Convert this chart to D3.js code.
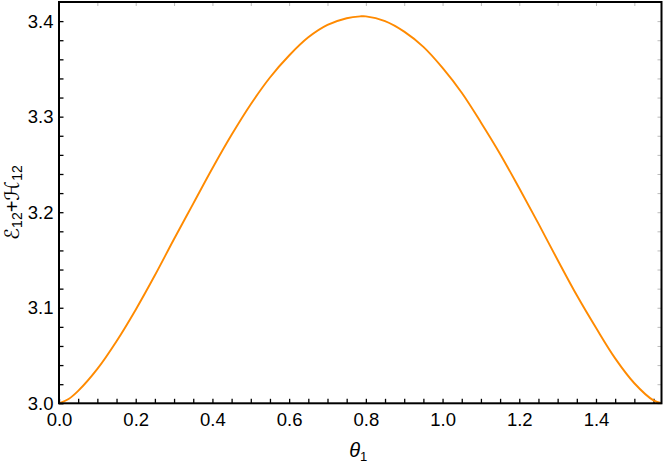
<!DOCTYPE html>
<html>
<head>
<meta charset="utf-8">
<script src="https://cdn.jsdelivr.net/npm/d3@7"></script>
<style>
  html, body { margin: 0; padding: 0; background: #fff; }
  svg { display: block; }
</style>
</head>
<body>
<svg id="chart" width="664" height="464"></svg>
<script>
// ---- data ----
const theta = [0, 0.025, 0.05, 0.10, 0.15, 0.20, 0.25, 0.30, 0.35, 0.40, 0.45, 0.50, 0.55, 0.60, 0.65, 0.70, 0.75, 0.7854,
               0.80, 0.85, 0.90, 0.95, 1.00, 1.05, 1.10, 1.15, 1.20, 1.25, 1.30, 1.35, 1.40, 1.45, 1.50, 1.55, 1.5708];
const energy = [3.000, 3.0045, 3.013, 3.036, 3.065, 3.098, 3.134, 3.172, 3.209, 3.246, 3.281, 3.313, 3.341, 3.364, 3.383, 3.396, 3.403, 3.405,
                3.405, 3.400, 3.389, 3.373, 3.351, 3.325, 3.294, 3.261, 3.225, 3.188, 3.150, 3.113, 3.079, 3.047, 3.021, 3.003, 3.000];
const xTickLabels = [0.0, 0.2, 0.4, 0.6, 0.8, 1.0, 1.2, 1.4];
const yTickLabels = [3.0, 3.1, 3.2, 3.3, 3.4];
const xDomain = [0, 1.5708];
const yDomain = [3.0, 3.42];

// ---- layout ----
const svg = d3.select("#chart");
const L = 59, R = 661.5, T = 2, B = 403.3;
const x = d3.scaleLinear().domain(xDomain).range([L, R]);
const y = d3.scaleLinear().domain(yDomain).range([B, T]);
const font = "'Liberation Sans', Arial, sans-serif";

const xMinor = d3.range(0, 1.5708, 0.05);
const xTop = d3.range(0.1, 1.5708, 0.1);
const yMinor = d3.range(3.0, 3.42, 0.02);

// bottom inward ticks
svg.append("g").attr("transform", `translate(0,${B})`)
  .call(d3.axisBottom(x).tickValues(xMinor).tickSize(-4.5).tickFormat(""))
  .call(g => g.select(".domain").remove())
  .call(g => g.selectAll("line").attr("stroke", "#000").attr("stroke-width", 1.3));
// left inward ticks
svg.append("g").attr("transform", `translate(${L},0)`)
  .call(d3.axisLeft(y).tickValues(yMinor).tickSize(-4.5).tickFormat(""))
  .call(g => g.select(".domain").remove())
  .call(g => g.selectAll("line").attr("stroke", "#000").attr("stroke-width", 1.3));
// top mirrored ticks (gray)
svg.append("g").attr("transform", `translate(0,${T})`)
  .call(d3.axisTop(x).tickValues(xTop).tickSize(-4).tickFormat(""))
  .call(g => g.select(".domain").remove())
  .call(g => g.selectAll("line").attr("stroke", "#bbb").attr("stroke-width", 1));
// right mirrored ticks (gray)
svg.append("g").attr("transform", `translate(${R},0)`)
  .call(d3.axisRight(y).tickValues(yMinor).tickSize(-4).tickFormat(""))
  .call(g => g.select(".domain").remove())
  .call(g => g.selectAll("line").attr("stroke", "#bbb").attr("stroke-width", 1));

// labels
svg.append("g").attr("transform", `translate(0,${B})`)
  .call(d3.axisBottom(x).tickValues(xTickLabels).tickSize(0).tickPadding(10).tickFormat(d3.format(".1f")))
  .call(g => g.select(".domain").remove())
  .call(g => g.selectAll("text").attr("font-family", font).attr("font-size", 18.5).attr("fill", "#000"));
svg.append("g").attr("transform", `translate(${L},0)`)
  .call(d3.axisLeft(y).tickValues(yTickLabels).tickSize(0).tickPadding(5.5).tickFormat(d3.format(".1f")))
  .call(g => g.select(".domain").remove())
  .call(g => g.selectAll("text").attr("font-family", font).attr("font-size", 18.5).attr("fill", "#000"));

// curve
const line = d3.line().x((d, i) => x(theta[i])).y(d => y(d)).curve(d3.curveCatmullRom);
svg.append("path").datum(energy)
  .attr("d", line)
  .attr("fill", "none")
  .attr("stroke", "#ff8a00")
  .attr("stroke-width", 1.9);

// frame
svg.append("rect").attr("x", L).attr("y", T).attr("width", R - L).attr("height", B - T)
  .attr("fill", "none").attr("stroke", "#000").attr("stroke-width", 2);

// x title
const xt = svg.append("text").attr("x", (L + R) / 2 - 2).attr("y", 457)
  .attr("text-anchor", "middle").attr("font-family", font).attr("font-size", 20).attr("fill", "#000");
xt.append("tspan").attr("font-style", "italic").text("θ");
xt.append("tspan").attr("font-size", 13).attr("dy", 4).text("1");

// y title
const yt = svg.append("text")
  .attr("transform", `translate(19,${(T + B) / 2}) rotate(-90)`)
  .attr("text-anchor", "middle").attr("font-family", "'DejaVu Sans', sans-serif").attr("font-size", 20).attr("fill", "#000");
yt.append("tspan").text("ℰ");
yt.append("tspan").attr("font-family", font).attr("font-size", 14).attr("dy", 3).text("12");
yt.append("tspan").attr("font-family", font).attr("dy", -3).text("+");
yt.append("tspan").text("ℋ");
yt.append("tspan").attr("font-family", font).attr("font-size", 14).attr("dy", 3).text("12");
</script>
</body>
</html>
